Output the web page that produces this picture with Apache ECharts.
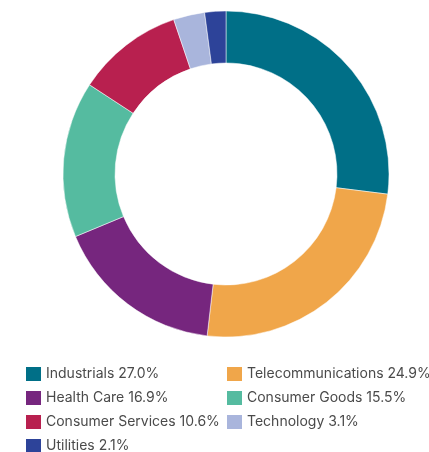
<!DOCTYPE html>
<html><head><meta charset="utf-8">
<script src="https://cdn.jsdelivr.net/npm/echarts@6/dist/echarts.min.js"></script>
<style>html,body{margin:0;padding:0;background:#fff}#c{width:429px;height:452px}</style>
</head><body><div id="c"></div>
<script>
const categories = ['Industrials','Telecommunications','Health Care','Consumer Goods','Consumer Services','Technology','Utilities'];
const values = [27.0, 24.9, 16.9, 15.5, 10.6, 3.1, 2.1];
const colors = ['#006f87','#f0a64a','#76267e','#55bba0','#b8204f','#a9b5dc','#2d4399'];
const leftLegend = ['Industrials','Health Care','Consumer Services','Utilities'];
const rightLegend = ['Telecommunications','Consumer Goods','Technology'];

const valMap = {};
categories.forEach((c,i)=>valMap[c]=values[i]);
const fmt = n => n + ' ' + valMap[n].toFixed(1) + '%';
const legendBase = {
  orient:'vertical', icon:'rect', itemWidth:15, itemHeight:14, itemGap:10,
  padding:0, height:100,
  itemStyle:{borderWidth:0},
  formatter: fmt,
  textStyle:{fontFamily:'Inter', fontSize:14, lineHeight:14, color:'#4a4a4a'},
  selectedMode:false
};
const chart = echarts.init(document.getElementById('c'));
chart.setOption({
  animation:false,
  color: colors,
  legend:[
    Object.assign({}, legendBase, {left:26, top:367, data:leftLegend}),
    Object.assign({}, legendBase, {left:227, top:367, data:rightLegend})
  ],
  series:[{
    type:'pie',
    center:[226,174],
    radius:[111,163],
    startAngle:90,
    clockwise:true,
    label:{show:false},
    labelLine:{show:false},
    emphasis:{disabled:true},
    itemStyle:{borderColor:'#fff', borderWidth:0.5},
    data: categories.map((c,i)=>({name:c, value:values[i]}))
  }]
});
</script></body></html>
